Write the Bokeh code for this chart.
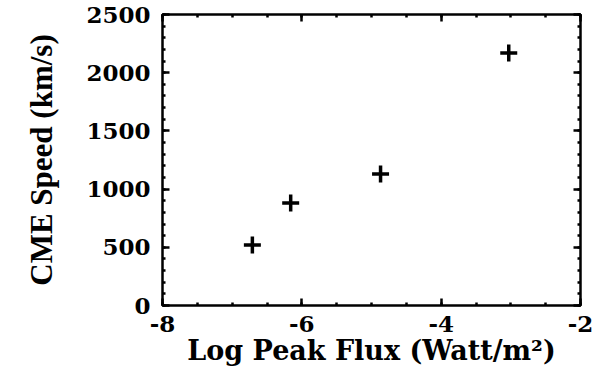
from bokeh.plotting import figure
from bokeh.models import LinearAxis, SingleIntervalTicker, Range1d, PrintfTickFormatter
from bokeh.embed import file_html
from bokeh.resources import INLINE

# Data
log_peak_flux = [-6.71, -6.16, -4.87, -3.03]
cme_speed = [520, 880, 1130, 2170]

x_min, x_max = -8, -2
y_min, y_max = 0, 2500

p = figure(frame_width=418, frame_height=291, output_backend="svg", toolbar_location=None,
           x_range=Range1d(x_min, x_max), y_range=Range1d(y_min, y_max),
           min_border_left=162, min_border_right=14, min_border_top=14,
           min_border_bottom=56, x_axis_location=None, y_axis_location=None)

p.grid.visible = False
p.outline_line_color = "black"
p.outline_line_width = 2.5
p.background_fill_color = "white"
p.border_fill_color = "white"

xt = lambda: SingleIntervalTicker(interval=2, num_minor_ticks=4)
yt = lambda: SingleIntervalTicker(interval=500, num_minor_ticks=5)

def style(ax, labels=True):
    ax.axis_line_color = None
    ax.major_tick_in = 7
    ax.major_tick_out = 0
    ax.minor_tick_in = 3
    ax.minor_tick_out = 0
    ax.major_tick_line_width = 2.5
    ax.minor_tick_line_width = 2.5
    ax.major_tick_line_color = "black"
    ax.minor_tick_line_color = "black"
    ax.formatter = PrintfTickFormatter(format="%d")
    if labels:
        ax.major_label_text_font = "DejaVu Serif"
        ax.major_label_text_font_style = "bold"
        ax.major_label_text_font_size = "23px"
        ax.major_label_text_color = "black"
    else:
        ax.major_label_text_font_size = "0px"
        ax.major_label_standoff = 0
        ax.major_label_text_alpha = 0

bottom = LinearAxis(ticker=xt(), axis_label="Log Peak Flux (Watt/m²)")
style(bottom)
bottom.major_label_standoff = 10
bottom.axis_label_standoff = 0
bottom.axis_label_text_font = "DejaVu Serif"
bottom.axis_label_text_font_style = "bold"
bottom.axis_label_text_font_size = "27px"
bottom.axis_label_text_color = "black"
p.add_layout(bottom, "below")

left = LinearAxis(ticker=yt(), axis_label="CME Speed (km/s)")
style(left)
left.major_label_standoff = 12
left.axis_label_standoff = 24
left.axis_label_text_font = "Liberation Serif"
left.axis_label_text_font_style = "bold"
left.axis_label_text_font_size = "31px"
left.axis_label_text_color = "black"
p.add_layout(left, "left")

top = LinearAxis(ticker=xt())
style(top, labels=False)
p.add_layout(top, "above")

right = LinearAxis(ticker=yt())
style(right, labels=False)
p.add_layout(right, "right")

p.scatter(log_peak_flux, cme_speed, marker="cross", size=17, line_width=3.5,
          line_color="black")

open("out.html", "w").write(file_html(p, INLINE))
